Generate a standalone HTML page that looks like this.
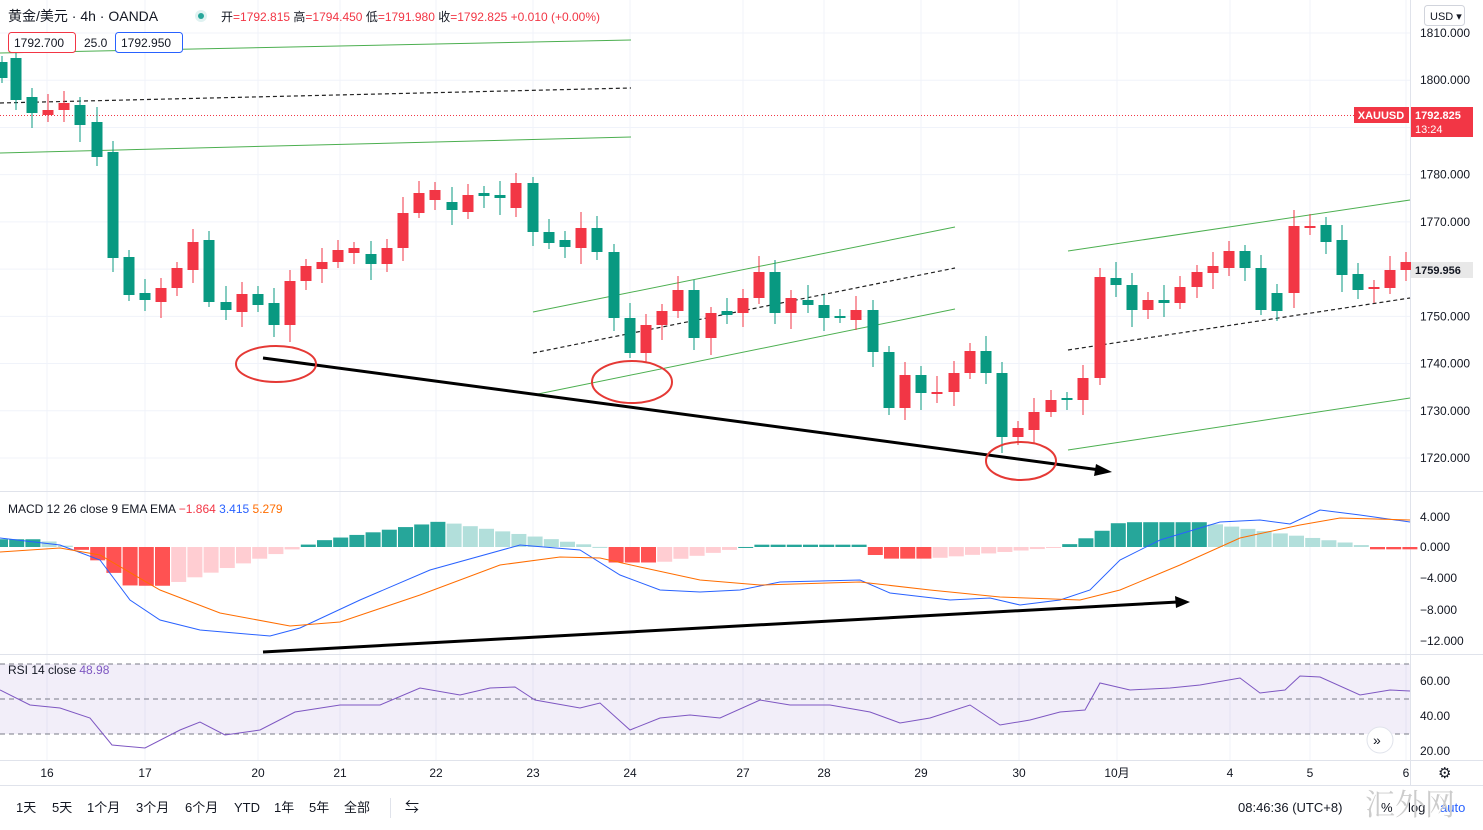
<!DOCTYPE html>
<html><head><meta charset="utf-8">
<style>
body{margin:0;width:1483px;height:830px;overflow:hidden;background:#fff;font-family:"Liberation Sans","Noto Sans CJK SC",sans-serif;}
svg{position:absolute;left:0;top:0}
</style></head><body>
<svg id="s" width="1483" height="830" xmlns="http://www.w3.org/2000/svg" font-family="Liberation Sans, Noto Sans CJK SC, sans-serif">
<rect x="0" y="0" width="1483" height="830" fill="#fff"/>
<!-- grid -->
<g id="grid" stroke="#f0f3fa" stroke-width="1"></g>
<!-- separators -->
<line x1="0" y1="491.5" x2="1483" y2="491.5" stroke="#e0e3eb"/>
<line x1="0" y1="654.5" x2="1483" y2="654.5" stroke="#e0e3eb"/>
<line x1="0" y1="760.5" x2="1483" y2="760.5" stroke="#e0e3eb"/>
<line x1="1410.5" y1="0" x2="1410.5" y2="785" stroke="#e0e3eb"/>
<line x1="0" y1="785.5" x2="1483" y2="785.5" stroke="#e0e3eb"/>
<!-- channels -->
<g stroke="#4caf50" stroke-width="1" fill="none">
<line x1="0" y1="53" x2="631" y2="40"/>
<line x1="0" y1="153" x2="631" y2="137"/>
<line x1="533" y1="312" x2="955" y2="227"/>
<line x1="533" y1="395" x2="955" y2="309"/>
<line x1="1068" y1="251" x2="1410" y2="200"/>
<line x1="1068" y1="450" x2="1410" y2="398"/>
</g>
<g stroke="#222" stroke-width="1.2" stroke-dasharray="4,3" fill="none">
<line x1="0" y1="103" x2="631" y2="88"/>
<line x1="533" y1="353" x2="955" y2="268"/>
<line x1="1068" y1="350" x2="1410" y2="298"/>
</g>
<line x1="0" y1="115.5" x2="1410" y2="115.5" stroke="#f23645" stroke-dasharray="1,2"/>
<g id="candles"></g>
<!-- arrows -->
<line x1="263" y1="358" x2="1100" y2="470" stroke="#000" stroke-width="3"/>
<polygon points="1112,472 1096,464 1094,476" fill="#000"/>
<line x1="263" y1="652" x2="1178" y2="602" stroke="#000" stroke-width="3"/>
<polygon points="1190,602 1175,596 1176,608" fill="#000"/>
<g fill="none" stroke="#e53935" stroke-width="2">
<ellipse cx="276" cy="364" rx="40" ry="18"/>
<ellipse cx="632" cy="382" rx="40" ry="21"/>
<ellipse cx="1021" cy="461" rx="35" ry="19"/>
</g>
<!-- MACD -->
<g id="hist"></g>
<polyline fill="none" stroke="#2962ff" stroke-width="1" points="0,538 60,545 100,560 130,600 160,620 200,630 270,636 300,628 360,600 430,570 520,545 580,550 620,575 660,590 700,592 740,590 780,582 860,580 890,593 950,600 990,598 1020,605 1060,600 1090,590 1120,560 1160,540 1220,522 1260,520 1290,524 1320,510 1360,515 1410,522"/>
<polyline fill="none" stroke="#ff6d00" stroke-width="1" points="0,552 60,548 100,555 160,590 220,613 290,626 340,622 420,595 500,565 560,557 600,558 640,567 700,580 760,585 860,582 930,590 1000,597 1080,600 1120,590 1180,565 1240,538 1300,525 1340,518 1410,520"/>
<!-- RSI -->
<rect x="0" y="664" width="1410" height="70" fill="#7e57c2" fill-opacity="0.1"/>
<g stroke="#787b86" stroke-dasharray="5,4"><line x1="0" y1="664" x2="1410" y2="664"/><line x1="0" y1="699" x2="1410" y2="699"/><line x1="0" y1="734" x2="1410" y2="734"/></g>
<polyline fill="none" stroke="#7e57c2" stroke-width="1" points="0,690 30,705 60,708 90,718 112,745 145,748 180,730 200,722 225,735 260,730 295,712 340,705 380,705 420,688 460,695 490,688 515,687 535,700 580,708 600,703 630,730 660,718 690,715 720,718 760,700 790,705 830,705 870,712 900,723 930,718 970,705 1000,725 1030,720 1060,712 1085,710 1100,683 1130,690 1170,688 1200,685 1240,678 1260,693 1285,690 1300,676 1320,677 1360,695 1390,690 1410,691"/>
<!-- axis labels -->
<g font-size="12" fill="#131722" id="axis"></g>
<!-- price labels -->
<rect x="1354" y="107" width="55" height="16" fill="#f23645"/>
<text x="1381" y="119" font-size="11" fill="#fff" text-anchor="middle" font-weight="bold">XAUUSD</text>
<rect x="1411" y="107" width="62" height="30" fill="#f23645"/>
<text x="1415" y="119" font-size="11" fill="#fff" font-weight="bold">1792.825</text>
<text x="1415" y="133" font-size="11" fill="#fff">13:24</text>
<rect x="1411" y="262" width="62" height="16" fill="#e8e8e8"/>
<text x="1415" y="274" font-size="11" fill="#131722" font-weight="bold">1759.956</text>
<!-- header -->
<text x="8" y="21" font-size="14" fill="#131722">黄金/美元 · 4h · OANDA</text>
<circle cx="201" cy="16" r="6" fill="#e0f2f1"/><circle cx="201" cy="16" r="3" fill="#26a69a"/>
<text x="221" y="21" font-size="12" fill="#131722">开<tspan fill="#f23645">=1792.815</tspan> 高<tspan fill="#f23645">=1794.450</tspan> 低<tspan fill="#f23645">=1791.980</tspan> 收<tspan fill="#f23645">=1792.825 +0.010 (+0.00%)</tspan></text>
<rect x="8.5" y="32.5" width="67" height="20" rx="3" fill="#fff" stroke="#f23645"/>
<text x="14" y="47" font-size="12" fill="#131722">1792.700</text>
<text x="84" y="47" font-size="12" fill="#131722">25.0</text>
<rect x="115.5" y="32.5" width="67" height="20" rx="3" fill="#fff" stroke="#2962ff"/>
<text x="121" y="47" font-size="12" fill="#131722">1792.950</text>
<rect x="1424.5" y="5.5" width="40" height="20" rx="3" fill="#fff" stroke="#d1d4dc"/>
<text x="1430" y="20" font-size="11" fill="#131722">USD ▾</text>
<text x="8" y="513" font-size="12" fill="#131722">MACD 12 26 close 9 EMA EMA <tspan fill="#f23645">−1.864</tspan> <tspan fill="#2962ff">3.415</tspan> <tspan fill="#ff6d00">5.279</tspan></text>
<text x="8" y="674" font-size="12" fill="#131722">RSI 14 close <tspan fill="#7e57c2">48.98</tspan></text>
<circle cx="1380" cy="740" r="13" fill="#fff" stroke="#e0e3eb"/><text x="1373" y="745" font-size="14" fill="#131722">»</text>
<text x="1438" y="778" font-size="15" fill="#131722">⚙</text>
<!-- bottom toolbar -->
<text x="16" y="812" font-size="13" fill="#131722" word-spacing="0">1天</text>
<text x="52" y="812" font-size="13" fill="#131722">5天</text>
<text x="87" y="812" font-size="13" fill="#131722">1个月</text>
<text x="136" y="812" font-size="13" fill="#131722">3个月</text>
<text x="185" y="812" font-size="13" fill="#131722">6个月</text>
<text x="234" y="812" font-size="13" fill="#131722">YTD</text>
<text x="274" y="812" font-size="13" fill="#131722">1年</text>
<text x="309" y="812" font-size="13" fill="#131722">5年</text>
<text x="344" y="812" font-size="13" fill="#131722">全部</text>
<line x1="390.5" y1="798" x2="390.5" y2="818" stroke="#e0e3eb"/>
<text x="405" y="812" font-size="14" fill="#131722">⇆</text>
<text x="1238" y="812" font-size="13" fill="#131722">08:46:36 (UTC+8)</text>
<text x="1381" y="812" font-size="13" fill="#131722">%</text>
<text x="1408" y="812" font-size="13" fill="#131722">log</text>
<text x="1440" y="812" font-size="13" fill="#2962ff">auto</text>
<text x="1365" y="815" font-size="30" fill="#ccc" font-family="Noto Serif CJK SC, serif">汇外网</text>
</svg>
<script>
var NS="http://www.w3.org/2000/svg";
function el(p,t,a,txt){var e=document.createElementNS(NS,t);for(var k in a)e.setAttribute(k,a[k]);if(txt!==undefined)e.textContent=txt;document.getElementById(p).appendChild(e);return e;}
// grid
for(var p=1720;p<=1810;p+=10){var y=33+(1810-p)*4.722;el('grid','line',{x1:0,y1:y,x2:1410,y2:y});el('axis','text',{x:1420,y:y+4},p.toFixed(3));}
var xs=[[47,'16'],[145,'17'],[258,'20'],[340,'21'],[436,'22'],[533,'23'],[630,'24'],[743,'27'],[824,'28'],[921,'29'],[1019,'30'],[1117,'10月'],[1230,'4'],[1310,'5'],[1406,'6']];
xs.forEach(function(a){el('grid','line',{x1:a[0],y1:0,x2:a[0],y2:760});el('axis','text',{x:a[0],y:777,'text-anchor':'middle'},a[1]);});
[[517,'4.000'],[547,'0.000'],[578,'−4.000'],[610,'−8.000'],[641,'−12.000']].forEach(function(a){el('axis','text',{x:1420,y:a[0]+4},a[1]);});
[[681,'60.00'],[716,'40.00'],[751,'20.00']].forEach(function(a){el('axis','text',{x:1420,y:a[0]+4},a[1]);});
// candles: x, top, bottom, color(r/g)
var C=[[2,62,78,'g'],[16,58,100,'g'],[32,97,113,'g'],[48,110,115,'r'],[64,103,110,'r'],[80,105,125,'g'],[97,122,157,'g'],[113,152,258,'g'],[129,257,295,'g'],[145,293,300,'g'],[161,288,302,'r'],[177,268,288,'r'],[193,242,270,'r'],[209,240,302,'g'],[226,302,310,'g'],[242,294,312,'r'],[258,294,305,'g'],[274,303,325,'g'],[290,281,325,'r'],[306,266,281,'r'],[322,262,269,'r'],[338,250,262,'r'],[354,248,253,'r'],[371,254,264,'g'],[387,248,264,'r'],[403,213,248,'r'],[419,193,213,'r'],[435,190,200,'r'],[452,202,210,'g'],[468,195,212,'r'],[484,193,196,'g'],[500,195,198,'g'],[516,183,208,'r'],[533,183,232,'g'],[549,232,243,'g'],[565,240,247,'g'],[581,228,248,'r'],[597,228,252,'g'],[614,252,318,'g'],[630,318,353,'g'],[646,325,353,'r'],[662,311,325,'r'],[678,290,311,'r'],[694,290,338,'g'],[711,313,338,'r'],[727,311,315,'g'],[743,298,313,'r'],[759,272,298,'r'],[775,272,313,'g'],[791,298,313,'r'],[808,300,305,'g'],[824,305,318,'g'],[840,316,318,'g'],[856,310,320,'r'],[873,310,352,'g'],[889,352,408,'g'],[905,375,408,'r'],[921,375,393,'g'],[937,392,394,'r'],[954,373,392,'r'],[970,351,373,'r'],[986,351,373,'g'],[1002,373,437,'g'],[1018,428,437,'r'],[1034,412,430,'r'],[1051,400,412,'r'],[1067,398,400,'g'],[1083,378,400,'r'],[1100,277,378,'r'],[1116,278,285,'g'],[1132,285,310,'g'],[1148,300,310,'r'],[1164,300,303,'g'],[1180,287,303,'r'],[1197,272,287,'r'],[1213,266,273,'r'],[1229,251,268,'r'],[1245,251,268,'g'],[1261,268,310,'g'],[1277,293,311,'g'],[1294,226,293,'r'],[1310,226,228,'r'],[1326,225,242,'g'],[1342,240,275,'g'],[1358,274,290,'g'],[1374,287,289,'r'],[1390,270,288,'r'],[1406,262,270,'r']];
C.forEach(function(c,i){var col=c[3]=='r'?'#f23645':'#089981';var wt=c[1]-6-(i*7%11),wb=c[2]+5+(i*5%13);
el('candles','line',{x1:c[0],y1:wt,x2:c[0],y2:wb,stroke:col});
el('candles','rect',{x:c[0]-5.5,y:c[1],width:11,height:Math.max(1,c[2]-c[1]),fill:col});});
// histogram
var K=[[0,1],[40,1],[85,-0.5],[130,-5],[165,-5],[300,0],[320,0.8],[440,3.3],[600,0],[615,-2],[660,-2],[745,0],[760,0.3],[860,0.3],[880,-1.5],[930,-1.5],[1060,0],[1080,0.8],[1120,3.2],[1200,3.2],[1360,0.3],[1370,-0.3],[1410,-0.3]];
function hv(x){for(var i=0;i<K.length-1;i++){if(x>=K[i][0]&&x<=K[i+1][0]){var t=(x-K[i][0])/(K[i+1][0]-K[i][0]);return K[i][1]+t*(K[i+1][1]-K[i][1]);}}return 0;}
var prev=hv(-16);
for(var x=0;x<1410;x+=16.2){var v=hv(x);var col;if(v>=0)col=v>=prev?'#26a69a':'#b2dfdb';else col=v<=prev?'#ff5252':'#ffcdd2';prev=v;
var y0=547,y1=547-7.75*v;el('hist','rect',{x:x-7,y:Math.min(y0,y1),width:15,height:Math.max(1,Math.abs(y1-y0)),fill:col});}
</script>
</body></html>
